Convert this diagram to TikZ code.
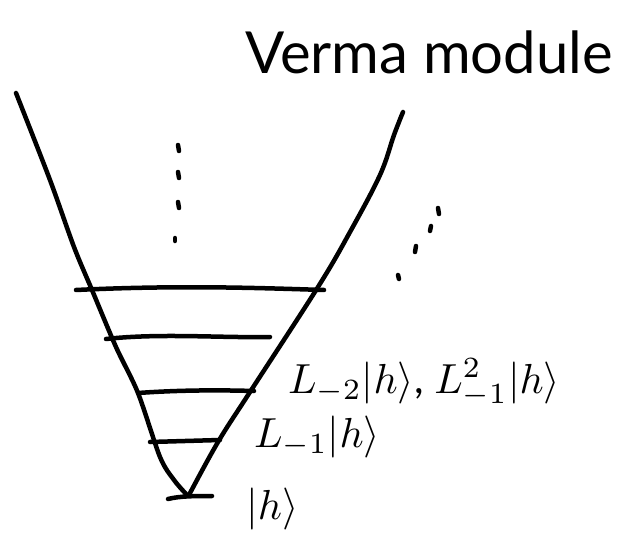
\documentclass[tikz,border=0pt]{standalone}
\usepackage{fontspec}
\setmainfont{Lato}
\begin{document}
\begin{tikzpicture}[x=1pt,y=-1pt,
  stroke/.style={line width=4.5pt,line cap=round,line join=round},
  dotmark/.style={line width=4.5pt,line cap=round},
  lbl/.style={anchor=west,inner sep=0pt}]
\useasboundingbox (0,0) rectangle (625,535);
% V shape
\draw[stroke] plot[smooth,tension=0.5] coordinates {(16,93) (50,180) (74,247) (92,290) (116,347) (138,393) (160,457) (174,480) (187,495)};
\draw[stroke] plot[smooth,tension=0.6] coordinates {(403,112) (394,135) (380,175) (350,232) (318,287) (250,392) (218,442) (189,495)};
% levels
\draw[stroke] (76,290) .. controls (180,285) and (260,288) .. (324,290);
\draw[stroke] (106,339) .. controls (160,333) and (220,338) .. (270,337);
\draw[stroke] (138,393) .. controls (180,390) and (220,390) .. (254,391);
\draw[stroke] (150,442) -- (220,440);
\draw[stroke] (168,499) .. controls (180,496) and (195,496) .. (212,496);
% vertical dots
\foreach \y in {145,172,202}
  \draw[dotmark] (178,\y) -- (179,\y+6);
\draw[dotmark] (175,238) -- (175,241);
% diagonal dots
\draw[dotmark] (438,208) -- (439,214);
\draw[dotmark] (431,226) -- (430,231);
\draw[dotmark] (416,246) -- (415,252);
\draw[dotmark] (398,275) -- (399,279);
% labels
\node[anchor=west,inner sep=0pt,font=\fontsize{58}{64}\selectfont] (title) at (245,52) {Verma module};
\node[lbl] (l2) at (288,383) {\scalebox{4.2}{$L_{-2}|h\rangle$, $L_{-1}^2|h\rangle$}};
\node[lbl] (l1) at (254,437) {\scalebox{4.2}{$L_{-1}|h\rangle$}};
\node[lbl] (h) at (246,509) {\scalebox{4.2}{$|h\rangle$}};
\end{tikzpicture}
\end{document}
